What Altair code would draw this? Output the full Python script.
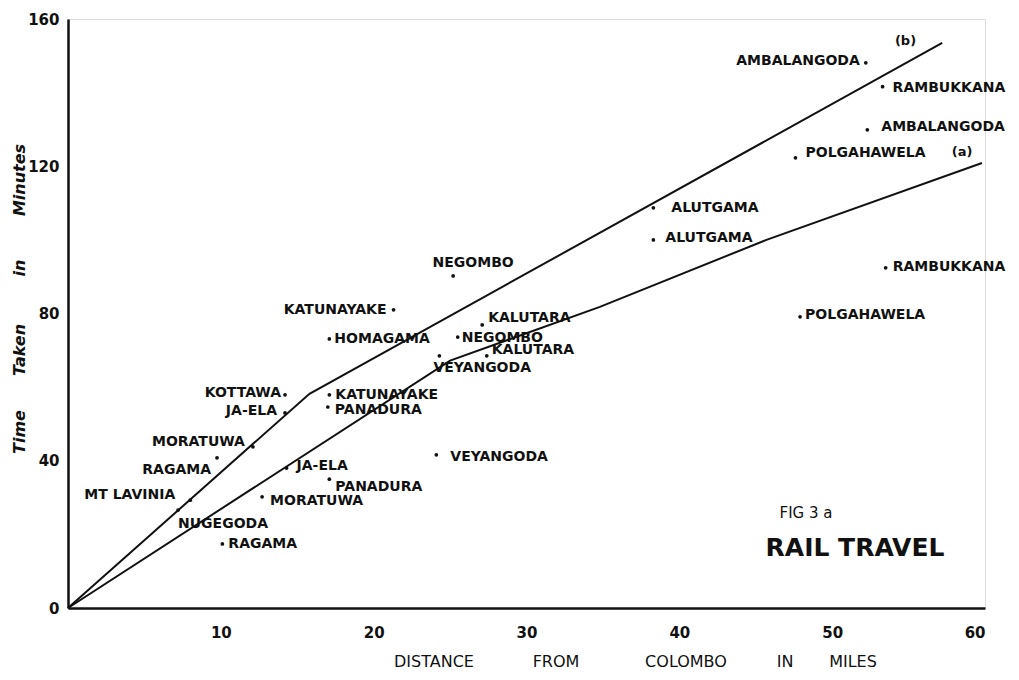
import altair as alt
import pandas as pd

# ---- data ----
stations = ["MT LAVINIA", "NUGEGODA", "RAGAMA", "RAGAMA", "MORATUWA", "KOTTAWA",
            "JA-ELA", "JA-ELA", "MORATUWA", "PANADURA", "PANADURA", "KATUNAYAKE",
            "HOMAGAMA", "KATUNAYAKE", "NEGOMBO", "NEGOMBO", "KALUTARA", "KALUTARA",
            "VEYANGODA", "VEYANGODA", "ALUTGAMA", "ALUTGAMA", "AMBALANGODA",
            "RAMBUKKANA", "AMBALANGODA", "POLGAHAWELA", "RAMBUKKANA", "POLGAHAWELA"]
distance = [8.0, 7.2, 10.1, 9.75, 12.1, 14.2, 14.2, 14.3, 12.7, 17.1, 17.0, 17.1,
            17.1, 21.3, 25.2, 25.5, 27.1, 27.4, 24.3, 24.1, 38.3, 38.3, 52.2,
            53.3, 52.3, 47.6, 53.5, 47.9]
minutes = [29.3, 26.6, 17.4, 40.8, 43.8, 57.9, 53.0, 38.0, 30.2, 35.0, 54.6, 57.9,
           73.1, 81.0, 90.2, 73.6, 76.9, 68.5, 68.5, 41.6, 108.7, 100.0, 148.1,
           141.6, 129.9, 122.3, 92.4, 79.1]

line_b_dist = [0, 15.8, 57.2]
line_b_min = [0, 58.2, 153.5]
line_a_dist = [0, 25.0, 34.8, 45.7, 59.8]
line_a_min = [0, 67.2, 81.8, 100.0, 120.9]

x_ticks = [10, 20, 30, 40, 50, 60]
y_ticks = [0, 40, 80, 120, 160]

# ---- label placement (style: alignment and pixel offsets) ----
label_style = [("right", -15, -5), ("left", 0, 14), ("left", 6, 0), ("right", -6, 12),
               ("right", -8, -5), ("right", -4, -2), ("right", -8, -2), ("left", 10, -2),
               ("left", 8, 4), ("left", 6, 8), ("left", 7, 3), ("left", 6, 0),
               ("left", 5, 0), ("right", -7, 0), ("center", 20, -13), ("left", 4, 1),
               ("left", 6, -7), ("left", 5, -6), ("left", -6, 12), ("left", 14, 2),
               ("left", 18, 0), ("left", 12, -2), ("right", -6, -2), ("left", 10, 1),
               ("left", 14, -3), ("left", 10, -5), ("left", 7, -1), ("left", 5, -2)]

W, H = 917, 589
PX_X = W / 60.0
PX_Y = H / 160.0

pts = pd.DataFrame({"name": stations, "dist": distance, "mins": minutes})
pts["align"] = [s[0] for s in label_style]
pts["lx"] = [d + s[1] / PX_X for d, s in zip(distance, label_style)]
pts["ly"] = [m - s[2] / PX_Y for m, s in zip(minutes, label_style)]

lines = pd.concat([
    pd.DataFrame({"series": "b", "dist": line_b_dist, "mins": line_b_min, "o": range(len(line_b_dist))}),
    pd.DataFrame({"series": "a", "dist": line_a_dist, "mins": line_a_min, "o": range(len(line_a_dist))}),
])

FONT = "DejaVu Sans"
xs = alt.Scale(domain=[0, 60], nice=False, zero=False)
ys = alt.Scale(domain=[0, 160], nice=False)

x_axis = alt.Axis(values=x_ticks, title=None, grid=False, ticks=False, domainColor="#111",
                  domainWidth=2.5, labelFont=FONT, labelFontSize=15, labelColor="#111",
                  labelPadding=17, labelFontWeight="bold")
y_axis = alt.Axis(values=y_ticks, title=None, grid=False, ticks=False, domainColor="#111",
                  domainWidth=2.5, labelFont=FONT, labelFontSize=15, labelColor="#111",
                  labelPadding=9, labelFontWeight="bold")

base_lines = alt.Chart(lines).mark_line(color="#111", strokeWidth=2).encode(
    x=alt.X("dist:Q", scale=xs, axis=x_axis),
    y=alt.Y("mins:Q", scale=ys, axis=y_axis),
    detail="series:N",
    order="o:Q",
)

dots = alt.Chart(pts).mark_circle(color="#111", size=14, opacity=1).encode(
    x=alt.X("dist:Q", scale=xs), y=alt.Y("mins:Q", scale=ys))

def label_layer(al):
    return alt.Chart(pts).transform_filter(alt.datum.align == al).mark_text(
        align=al, baseline="middle", font=FONT, fontSize=14, fontWeight="bold", color="#111"
    ).encode(x=alt.X("lx:Q", scale=xs), y=alt.Y("ly:Q", scale=ys), text="name:N")

series_labels = pd.DataFrame({"t": ["(b)", "(a)"], "dist": [54.8, 58.5], "mins": [154.0, 124.0]})
slab = alt.Chart(series_labels).mark_text(font=FONT, fontSize=13, fontWeight="bold",
                                          color="#111").encode(
    x=alt.X("dist:Q", scale=xs), y=alt.Y("mins:Q", scale=ys), text="t:N")

# page px -> chart px: x - 68, y - 19
def txt(s, px, py, size=15, weight="normal", style="normal", angle=0, align="center"):
    kw = dict(font=FONT, fontSize=size, fontWeight=weight, fontStyle=style, color="#111",
              align=align, baseline="middle")
    if angle:
        kw["angle"] = angle
    return alt.Chart(pd.DataFrame({"t": [s]})).mark_text(**kw).encode(
        x=alt.value(px - 68), y=alt.value(py - 19), text="t:N")

annotations = [
    txt("DISTANCE", 434, 662, size=16), txt("FROM", 556, 662, size=16),
    txt("COLOMBO", 686, 662, size=16), txt("IN", 785, 662, size=16),
    txt("MILES", 853, 662, size=16),
    txt("Time", 20, 432, size=16, weight="bold", style="italic", angle=270),
    txt("Taken", 20, 350, size=16, weight="bold", style="italic", angle=270),
    txt("in", 20, 268, size=16, weight="bold", style="italic", angle=270),
    txt("Minutes", 20, 180, size=16, weight="bold", style="italic", angle=270),
    txt("FIG 3  a", 806, 513, size=15),
    txt("RAIL TRAVEL", 855, 548, size=25, weight="bold"),
]

chart = alt.layer(base_lines, dots, label_layer("left"), label_layer("right"),
                  label_layer("center"), slab, *annotations).properties(
    width=W, height=H, autosize="none",
    padding={"left": 60, "top": 11, "right": 26, "bottom": 64},
).configure_view(stroke="transparent", strokeWidth=0).configure(background="white")

chart.save("out.html", embed_options={"renderer": "svg", "actions": False})
